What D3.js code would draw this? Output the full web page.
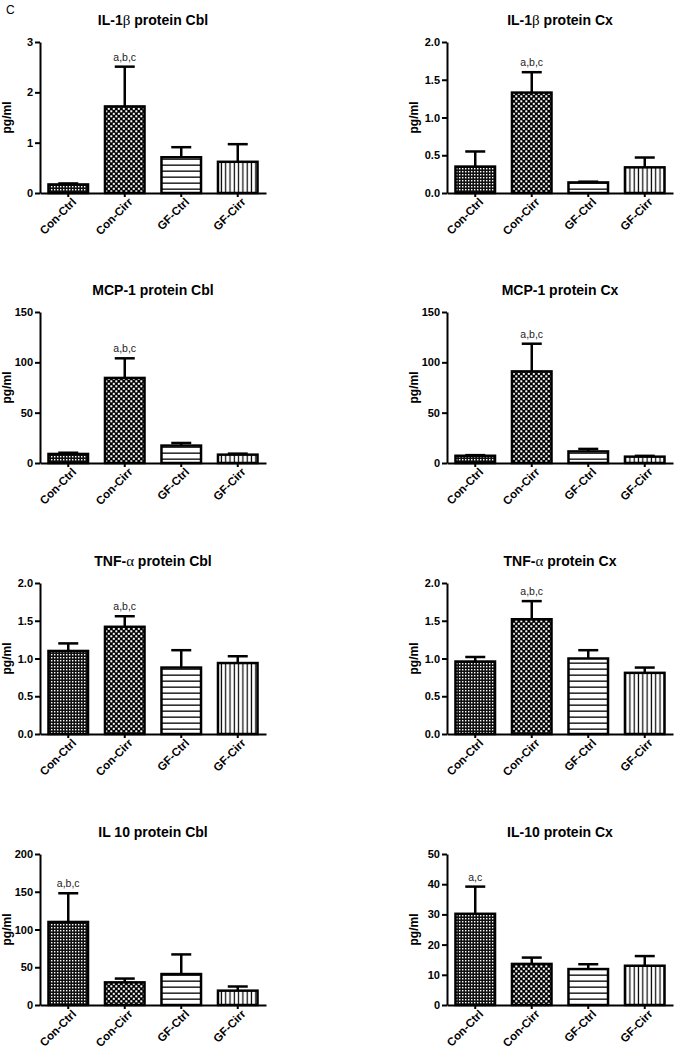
<!DOCTYPE html>
<html><head><meta charset="utf-8">
<script src="https://cdn.jsdelivr.net/npm/d3@7"></script>
<style>
body{margin:0;background:#fff}
text{font-family:"Liberation Sans",Arial,sans-serif}
</style>
</head><body>
<svg id="c" width="675" height="1050"></svg>
<script>
// ---- data ----
const groups = ["Con-Ctrl", "Con-Cirr", "GF-Ctrl", "GF-Cirr"];

const il1bCblMean = [0.17, 1.72, 0.71, 0.62];
const il1bCblSem  = [0.02, 0.79, 0.20, 0.35];
const il1bCblTicks = [0, 1, 2, 3];

const il1bCxMean = [0.35, 1.33, 0.14, 0.34];
const il1bCxSem  = [0.20, 0.27, 0.01, 0.13];
const il1bCxTicks = [0, 0.5, 1.0, 1.5, 2.0];

const mcpCblMean = [9.0, 84.5, 17.3, 8.3];
const mcpCblSem  = [1.2, 19.5, 2.6, 1.0];
const mcpCblTicks = [0, 50, 100, 150];

const mcpCxMean = [7.2, 91.0, 11.5, 6.3];
const mcpCxSem  = [0.6, 27.5, 2.5, 0.8];
const mcpCxTicks = [0, 50, 100, 150];

const tnfCblMean = [1.10, 1.42, 0.88, 0.94];
const tnfCblSem  = [0.10, 0.14, 0.23, 0.09];
const tnfCblTicks = [0, 0.5, 1.0, 1.5, 2.0];

const tnfCxMean = [0.96, 1.52, 1.00, 0.81];
const tnfCxSem  = [0.06, 0.24, 0.11, 0.07];
const tnfCxTicks = [0, 0.5, 1.0, 1.5, 2.0];

const il10CblMean = [110, 30, 41, 19];
const il10CblSem  = [38, 5, 26, 5.5];
const il10CblTicks = [0, 50, 100, 150, 200];

const il10CxMean = [30.2, 13.6, 11.9, 13.0];
const il10CxSem  = [9.0, 2.1, 1.6, 3.2];
const il10CxTicks = [0, 10, 20, 30, 40, 50];

const titles = [
  ["IL-1", "β", " protein Cbl"], ["IL-1", "β", " protein Cx"],
  ["MCP-1 protein Cbl", "", ""], ["MCP-1 protein Cx", "", ""],
  ["TNF-", "α", " protein Cbl"], ["TNF-", "α", " protein Cx"],
  ["IL 10 protein Cbl", "", ""], ["IL-10 protein Cx", "", ""]
];
const annotIndex = [1, 1, 1, 1, 1, 1, 0, 0];
const annotText = ["a,b,c", "a,b,c", "a,b,c", "a,b,c", "a,b,c", "a,b,c", "a,b,c", "a,c"];
const yLabel = "pg/ml";
const panelLabel = "C";

// ---- layout ----
const panels = [
  {m: il1bCblMean, s: il1bCblSem, t: il1bCblTicks, f: d3.format("d")},
  {m: il1bCxMean, s: il1bCxSem, t: il1bCxTicks, f: d3.format(".1f")},
  {m: mcpCblMean, s: mcpCblSem, t: mcpCblTicks, f: d3.format("d")},
  {m: mcpCxMean, s: mcpCxSem, t: mcpCxTicks, f: d3.format("d")},
  {m: tnfCblMean, s: tnfCblSem, t: tnfCblTicks, f: d3.format(".1f")},
  {m: tnfCxMean, s: tnfCxSem, t: tnfCxTicks, f: d3.format(".1f")},
  {m: il10CblMean, s: il10CblSem, t: il10CblTicks, f: d3.format("d")},
  {m: il10CxMean, s: il10CxSem, t: il10CxTicks, f: d3.format("d")}
];
const colX = [40, 447];
const rowTop = [42, 312, 583, 854];
const plotH = 151, plotW = 226;

const svg = d3.select("#c");
const defs = svg.append("defs");

// patterns
function pat(id, w, h, build) {
  const p = defs.append("pattern").attr("id", id).attr("patternUnits", "userSpaceOnUse")
    .attr("width", w).attr("height", h);
  build(p);
}
pat("p0", 3, 3, p => {
  p.append("rect").attr("width", 3).attr("height", 3).attr("fill", "#111");
  p.append("rect").attr("width", 1.4).attr("height", 1.4).attr("fill", "#fff");
});
pat("p1", 5, 5, p => {
  p.append("rect").attr("width", 5).attr("height", 5).attr("fill", "#000");
  p.append("rect").attr("x", 0.3).attr("y", 0.3).attr("width", 2).attr("height", 2).attr("fill", "#fff");
  p.append("rect").attr("x", 2.8).attr("y", 2.8).attr("width", 2).attr("height", 2).attr("fill", "#fff");
});
pat("p2", 6, 6, p => {
  p.append("rect").attr("width", 6).attr("height", 6).attr("fill", "#fff");
  p.append("rect").attr("y", 2.5).attr("width", 6).attr("height", 1.3).attr("fill", "#000");
});
pat("p3", 4.3, 4.3, p => {
  p.append("rect").attr("width", 4.3).attr("height", 4.3).attr("fill", "#fff");
  p.append("rect").attr("x", 1.5).attr("width", 1.2).attr("height", 4.3).attr("fill", "#000");
});
const fills = ["url(#p0)", "url(#p1)", "url(#p2)", "url(#p3)"];

svg.append("text").attr("x", 6).attr("y", 14).attr("font-size", 12).text(panelLabel);

panels.forEach((P, i) => {
  const x0 = colX[i % 2], top = rowTop[Math.floor(i / 2)], y0 = top + plotH;
  const x = d3.scaleBand().domain(groups).range([x0, x0 + plotW]).paddingInner(0.3).paddingOuter(0.15);
  const y = d3.scaleLinear().domain([0, d3.max(P.t)]).range([y0, top]);
  const g = svg.append("g");

  // title
  const tt = g.append("text").attr("x", x0 + plotW / 2).attr("y", top - 17)
    .attr("text-anchor", "middle").attr("font-size", 14).attr("font-weight", "bold");
  tt.append("tspan").text(titles[i][0]);
  if (titles[i][1]) tt.append("tspan").attr("font-family", "'Liberation Serif',serif").attr("font-weight", "normal").attr("font-size", 15).text(titles[i][1]);
  if (titles[i][2]) tt.append("tspan").text(titles[i][2]);

  // bars
  g.selectAll("rect.bar").data(groups).join("rect").attr("class", "bar")
    .attr("x", d => x(d)).attr("width", x.bandwidth())
    .attr("y", (d, k) => y(P.m[k])).attr("height", (d, k) => y(0) - y(P.m[k]))
    .attr("fill", (d, k) => fills[k]).attr("stroke", "#000").attr("stroke-width", 2.5);

  // error bars (upper only)
  groups.forEach((d, k) => {
    const cx = x(d) + x.bandwidth() / 2;
    const yt = y(P.m[k] + P.s[k]);
    g.append("line").attr("x1", cx).attr("x2", cx).attr("y1", y(P.m[k])).attr("y2", yt)
      .attr("stroke", "#000").attr("stroke-width", 2.5);
    g.append("line").attr("x1", cx - 10).attr("x2", cx + 10).attr("y1", yt).attr("y2", yt)
      .attr("stroke", "#000").attr("stroke-width", 2.5);
    if (k === annotIndex[i]) {
      g.append("text").attr("x", cx).attr("y", yt - 6).attr("text-anchor", "middle")
        .attr("font-size", 10.5).attr("fill", "#222").text(annotText[i]);
    }
  });

  // y axis
  const ya = g.append("g").attr("transform", `translate(${x0},0)`)
    .call(d3.axisLeft(y).tickValues(P.t).tickFormat(P.f).tickSize(5).tickSizeOuter(0).tickPadding(2));
  ya.select(".domain").attr("stroke-width", 2);
  ya.selectAll(".tick line").attr("stroke-width", 2);
  ya.selectAll(".tick text").attr("font-size", 11).attr("font-weight", "bold").attr("fill", "#000")
    .style("font-family", "'Liberation Sans',Arial,sans-serif");

  // x axis
  const xa = g.append("g").attr("transform", `translate(0,${y0})`)
    .call(d3.axisBottom(x).tickSize(4).tickSizeOuter(0));
  xa.select(".domain").attr("stroke-width", 2);
  xa.selectAll(".tick line").attr("stroke-width", 2);
  xa.selectAll(".tick text").attr("font-size", 11.5).attr("font-weight", "bold").attr("fill", "#000")
    .style("font-family", "'Liberation Sans',Arial,sans-serif")
    .attr("text-anchor", "end").attr("dy", "0.7em").attr("y", 0)
    .attr("transform", "translate(3,4) rotate(-45)");

  // y label
  g.append("text").attr("transform", `translate(${x0 - 29},${(top + y0) / 2}) rotate(-90)`)
    .attr("text-anchor", "middle").attr("font-size", 12).attr("font-weight", "bold").text(yLabel);
});
</script>
</body></html>
